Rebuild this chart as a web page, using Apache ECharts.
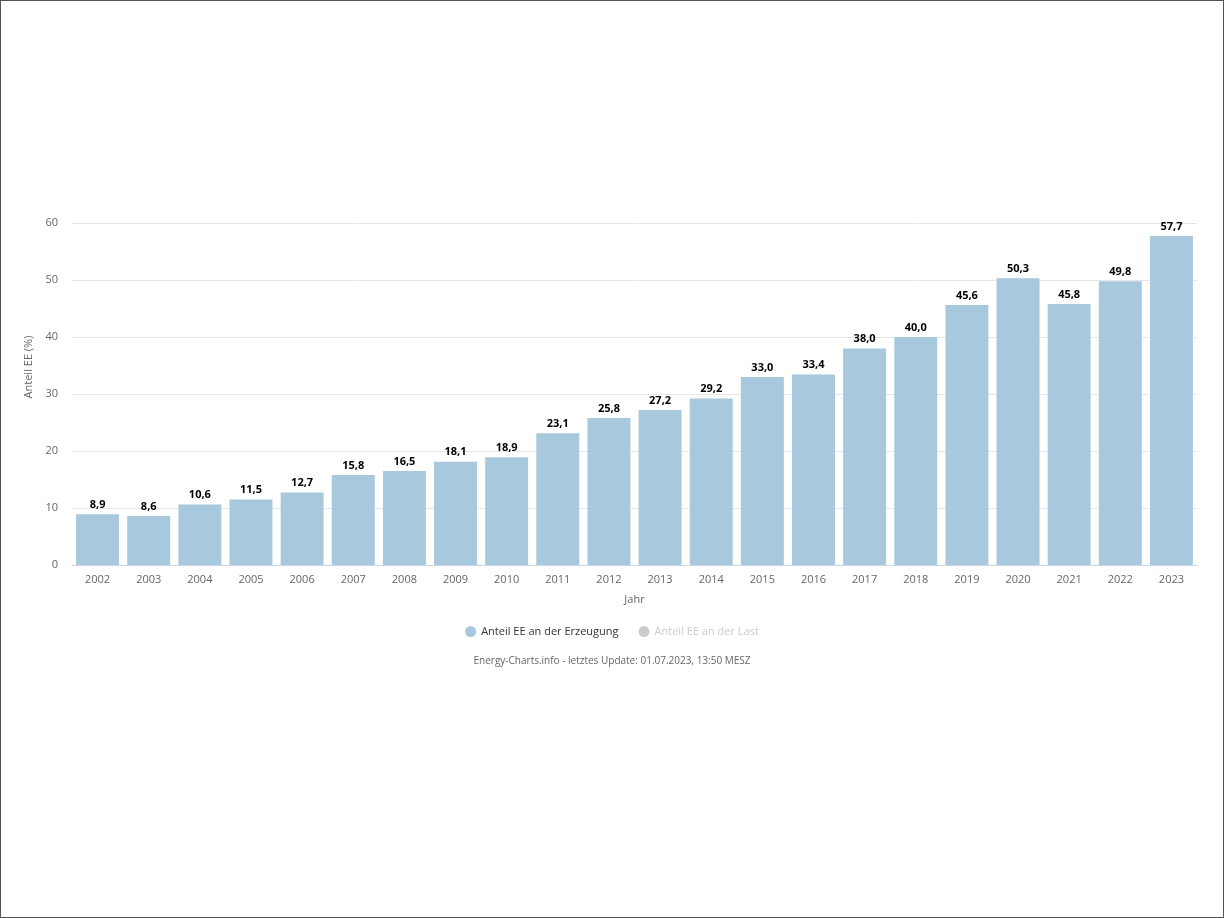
<!DOCTYPE html>
<html>
<head>
<meta charset="utf-8">
<script src="https://cdn.jsdelivr.net/npm/echarts@6/dist/echarts.min.js"></script>
<style>
  html, body { margin: 0; padding: 0; background: #fff; }
  #chart { width: 1224px; height: 918px; box-sizing: border-box; border: 1px solid #555; }
</style>
</head>
<body>
<div id="chart"></div>
<script>
  const years = ["2002", "2003", "2004", "2005", "2006", "2007", "2008", "2009", "2010", "2011", "2012",
    "2013", "2014", "2015", "2016", "2017", "2018", "2019", "2020", "2021", "2022", "2023"];
  const anteilErzeugung = [8.9, 8.6, 10.6, 11.5, 12.7, 15.8, 16.5, 18.1, 18.9, 23.1, 25.8,
    27.2, 29.2, 33.0, 33.4, 38.0, 40.0, 45.6, 50.3, 45.8, 49.8, 57.7];
  // second series is switched off in the legend, nothing drawn
  const anteilLast = [];
  const yTicks = { min: 0, max: 60, interval: 10 };

  const fmt = (v) => v.toFixed(1).replace(".", ",");
  const font = "'Open Sans', 'DejaVu Sans', sans-serif";

  const myChart = echarts.init(document.getElementById("chart"));
  const option = {
    animation: false,
    textStyle: { fontFamily: font },
    grid: { left: 71, right: 26, top: 222, bottom: 352 },
    legend: {
      top: 620,
      left: "center",
      icon: "circle",
      itemWidth: 11,
      itemHeight: 11,
      itemGap: 20,
      textStyle: { fontSize: 11, color: "#333", fontFamily: font },
      inactiveColor: "#ccc",
      selected: { "Anteil EE an der Last": false },
    },
    graphic: [
      {
        type: "text",
        left: "center",
        top: 655,
        style: {
          text: "Energy-Charts.info - letztes Update: 01.07.2023, 13:50 MESZ",
          fill: "#666",
          font: "10px " + font,
        },
      },
    ],
    xAxis: {
      type: "category",
      data: years,
      name: "Jahr",
      nameLocation: "middle",
      nameGap: 29,
      nameTextStyle: { color: "#666", fontSize: 11 },
      axisLine: { lineStyle: { color: "#ccd6eb" } },
      axisTick: { show: false },
      axisLabel: { color: "#666", fontSize: 11, margin: 9 },
    },
    yAxis: {
      type: "value",
      min: yTicks.min,
      max: yTicks.max,
      interval: yTicks.interval,
      name: "Anteil EE (%)",
      nameLocation: "middle",
      nameGap: 34,
      nameTextStyle: { color: "#666", fontSize: 11, padding: [0, 0, 0, 54] },
      axisLine: { show: false },
      axisTick: { show: false },
      axisLabel: { color: "#666", fontSize: 11, margin: 14 },
      splitLine: { lineStyle: { color: "#e6e6e6" } },
    },
    series: [
      {
        name: "Anteil EE an der Erzeugung",
        type: "bar",
        data: anteilErzeugung,
        barCategoryGap: "16%",
        itemStyle: { color: "#a8c8dd" },
        label: {
          show: true,
          position: "top",
          distance: 4,
          color: "#000",
          fontWeight: "bold",
          fontSize: 11,
          formatter: (p) => fmt(p.value),
        },
      },
      {
        name: "Anteil EE an der Last",
        type: "bar",
        data: anteilLast,
        itemStyle: { color: "#c8c8c8" },
      },
    ],
  };
  myChart.setOption(option);
</script>
</body>
</html>
